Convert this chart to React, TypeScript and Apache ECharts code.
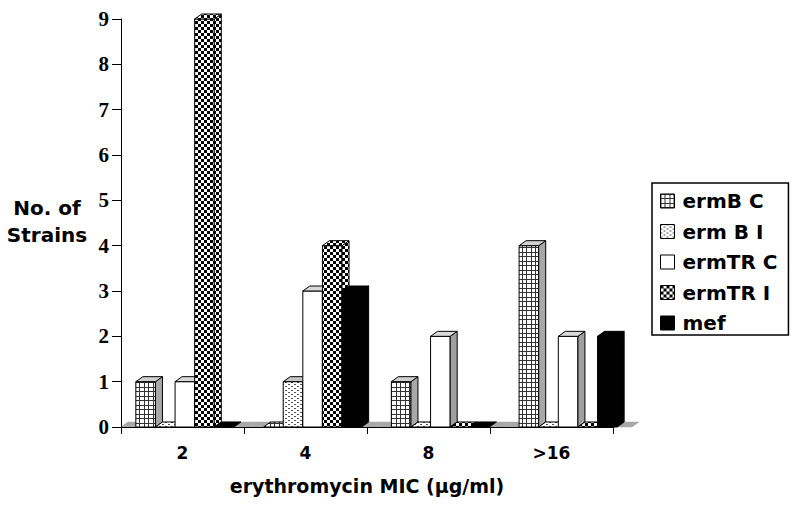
import React, { useEffect, useRef } from 'react';
import * as echarts from 'echarts';

const categories = ['2', '4', '8', '>16'];
const seriesNames = ['ermB C', 'erm B I', 'ermTR C', 'ermTR I', 'mef'];
const ermBC = [1, 0, 1, 4];
const ermBI = [0, 1, 0, 0];
const ermTRC = [1, 3, 2, 2];
const ermTRI = [9, 4, 0, 0];
const mef = [0, 3, 0, 2];
const seriesValues = [ermBC, ermBI, ermTRC, ermTRI, mef];
const yMin = 0;
const yMax = 9;
const yInterval = 1;

const SANS = '"DejaVu Sans", sans-serif';
const SERIF = '"Liberation Serif", serif';
const DX = 7;
const DY = -5;
const BAR_FRAC = 0.1535;

function tile(w: number, h: number, draw: (ctx: CanvasRenderingContext2D) => void) {
  const c = document.createElement('canvas');
  c.width = w;
  c.height = h;
  const ctx = c.getContext('2d') as CanvasRenderingContext2D;
  draw(ctx);
  return c;
}

function makePatterns() {
  const grid = tile(9, 9, (ctx) => {
    ctx.fillStyle = '#fff';
    ctx.fillRect(0, 0, 9, 9);
    ctx.fillStyle = '#333';
    ctx.fillRect(0, 0, 9, 1);
    ctx.fillRect(0, 4, 9, 1);
    ctx.fillRect(0, 0, 1, 9);
    ctx.fillRect(4, 0, 1, 9);
  });
  const dots = tile(6, 4, (ctx) => {
    ctx.fillStyle = '#fff';
    ctx.fillRect(0, 0, 6, 4);
    ctx.fillStyle = '#555';
    ctx.fillRect(0, 0, 2, 1);
    ctx.fillRect(3, 2, 2, 1);
  });
  const checker = tile(6, 6, (ctx) => {
    ctx.fillStyle = '#fff';
    ctx.fillRect(0, 0, 6, 6);
    ctx.fillStyle = '#000';
    ctx.fillRect(0, 0, 3, 3);
    ctx.fillRect(3, 3, 3, 3);
  });
  const pat = (c: HTMLCanvasElement) => ({ image: c.toDataURL(), repeat: 'repeat', imageWidth: c.width, imageHeight: c.height } as any);
  return { grid: pat(grid), dots: pat(dots), checker: pat(checker) };
}

export default function App() {
  const ref = useRef<HTMLDivElement>(null);
  useEffect(() => {
    if (!ref.current) return;
    const chart = echarts.init(ref.current, null, { renderer: 'svg' });
    const P = makePatterns();
    const fronts: any[] = [P.grid, P.dots, '#fff', P.checker, '#000'];
    const tops: any[] = ['#d0d0d0', '#c4c4c4', '#d8d8d8', P.checker, '#000'];
    const sides: any[] = ['#a8a8a8', '#a8a8a8', '#a0a0a0', P.checker, '#000'];

    const barRenderer = (k: number) => (params: any, api: any) => {
      const c = api.value(0);
      const v = api.value(1);
      const p0 = api.coord([c, 0]);
      const p1 = api.coord([c, v]);
      const band = api.size([1, 0])[0];
      const bw = band * BAR_FRAC;
      const x0 = p0[0] - 2.5 * bw + k * bw;
      const x1 = x0 + bw;
      const yb = p0[1];
      const yt = p1[1];
      const st = { stroke: '#000', lineWidth: 1 };
      const children: any[] = [];
      if (v > 0) {
        children.push({ type: 'rect', shape: { x: x0, y: yt, width: bw, height: yb - yt }, style: { fill: fronts[k], ...st } });
        children.push({ type: 'polygon', shape: { points: [[x1, yt], [x1 + DX, yt + DY], [x1 + DX, yb + DY], [x1, yb]] }, style: { fill: sides[k], ...st } });
        children.push({ type: 'polygon', shape: { points: [[x0, yt], [x0 + DX, yt + DY], [x1 + DX, yt + DY], [x1, yt]] }, style: { fill: tops[k], ...st } });
      } else {
        children.push({ type: 'polygon', shape: { points: [[x0, yb], [x0 + DX, yb + DY], [x1 + DX, yb + DY], [x1, yb]] }, style: { fill: k === 2 ? '#d8d8d8' : fronts[k], ...st } });
      }
      return { type: 'group', children };
    };

    const floorRenderer = (params: any, api: any) => {
      const c = api.value(0);
      const p0 = api.coord([c, 0]);
      const band = api.size([1, 0])[0];
      const xa = p0[0] - band / 2;
      const xb = p0[0] + band / 2;
      const y = p0[1];
      return {
        type: 'polygon',
        shape: { points: [[xa, y], [xa + DX, y + DY], [xb + DX, y + DY], [xb, y]] },
        style: { fill: '#a8a8a8', stroke: '#a8a8a8', lineWidth: 0.5 },
      };
    };

    const series: any[] = [
      {
        type: 'custom',
        name: '__floor',
        xAxisIndex: 1,
        yAxisIndex: 1,
        clip: false,
        silent: true,
        renderItem: floorRenderer,
        data: categories.map((_, i) => [i, 0]),
        encode: { x: 0, y: 1 },
      },
      ...seriesNames.map((name, k) => ({
        type: 'custom',
        name,
        xAxisIndex: 1,
        yAxisIndex: 1,
        clip: false,
        itemStyle: { color: fronts[k], borderColor: '#000', borderWidth: 1 },
        renderItem: barRenderer(k),
        data: seriesValues[k].map((v, i) => [i, v]),
        encode: { x: 0, y: 1 },
      })),
    ];

    chart.setOption({
      animation: false,
      backgroundColor: '#fff',
      grid: [
        { left: 121, right: 182, top: 19, bottom: 80 },
        { left: 121, right: 163, top: 19, bottom: 80 },
      ],
      xAxis: [
        {
          gridIndex: 0,
          type: 'category',
          data: categories,
          boundaryGap: true,
          axisLine: { lineStyle: { color: '#000', width: 1 } },
          axisTick: { show: true, alignWithLabel: false, length: 7, lineStyle: { color: '#000' } },
          axisLabel: { color: '#000', fontFamily: SANS, fontWeight: 'bold', fontSize: 17, margin: 17 },
          splitLine: { show: false },
          name: 'erythromycin MIC (µg/ml)',
          nameLocation: 'middle',
          nameGap: 49,
          nameTextStyle: { color: '#000', fontFamily: SANS, fontWeight: 'bold', fontSize: 19 },
          z: 10,
        },
        { gridIndex: 1, type: 'category', data: categories, show: false },
      ],
      yAxis: [
        {
          gridIndex: 0,
          type: 'value',
          min: yMin,
          max: yMax,
          interval: yInterval,
          axisLine: { show: true, lineStyle: { color: '#000', width: 1 } },
          axisTick: { show: true, length: 9, lineStyle: { color: '#000' } },
          axisLabel: { color: '#000', fontFamily: SERIF, fontWeight: 'bold', fontSize: 21, margin: 12 },
          splitLine: { show: false },
          z: 10,
        },
        { gridIndex: 1, type: 'value', min: yMin, max: yMax, interval: yInterval, show: false },
      ],
      legend: {
        orient: 'vertical',
        left: 652,
        top: 183,
        padding: [8, 11, 2, 8],
        itemWidth: 14,
        itemHeight: 14,
        itemGap: 10.5,
        borderColor: '#000',
        borderWidth: 1.5,
        backgroundColor: '#fff',
        selectedMode: false,
        textStyle: { color: '#000', fontFamily: SANS, fontWeight: 'bold', fontSize: 20, padding: [0, 0, 0, 3] },
        data: seriesNames.map((name, k) => ({
          name,
          icon: 'rect',
          itemStyle: { color: fronts[k], borderColor: '#000', borderWidth: 1 },
        })),
      },
      graphic: [
        {
          type: 'text',
          x: 47,
          y: 221,
          style: {
            text: 'No. of\nStrains',
            align: 'center',
            verticalAlign: 'middle',
            fontFamily: SANS,
            fontWeight: 'bold',
            fontSize: 20,
            lineHeight: 27,
            fill: '#000',
          },
        },
      ],
      series,
    });
    return () => chart.dispose();
  }, []);
  return <div ref={ref} style={{ position: 'fixed', left: 0, top: 0, width: 795, height: 507 }} />;
}
